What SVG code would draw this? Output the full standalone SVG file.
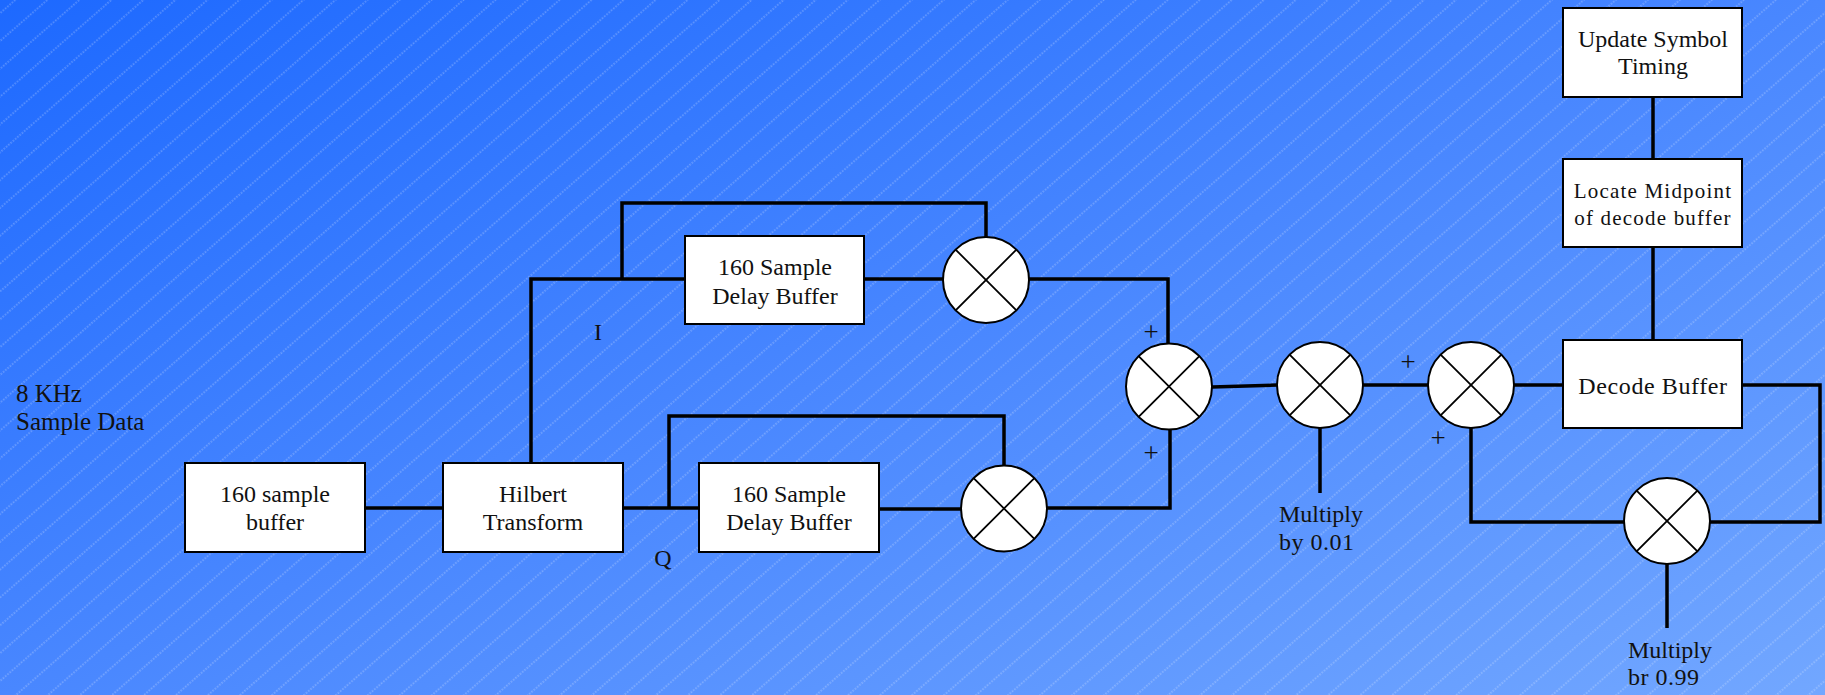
<svg xmlns="http://www.w3.org/2000/svg" width="1825" height="695" viewBox="0 0 1825 695">
<defs>
<linearGradient id="bg" x1="0" y1="0" x2="1" y2="1">
<stop offset="0" stop-color="#1d69ff"/>
<stop offset="0.5" stop-color="#4987ff"/>
<stop offset="1" stop-color="#72a7ff"/>
</linearGradient>
<pattern id="hatch" width="21" height="21" patternUnits="userSpaceOnUse" patternTransform="rotate(-41)">
<line x1="-5" y1="10" x2="26" y2="10" stroke="#ffffff" stroke-opacity="0.45" stroke-width="1" stroke-dasharray="1.5 1.5"/>
</pattern>
</defs>
<style>
text{font-family:"Liberation Serif","Times New Roman",serif;font-size:24px;fill:#111}
.box{fill:#fff;stroke:#000;stroke-width:2}
.mul circle{fill:#fff;stroke:#000;stroke-width:2}
.mul line{stroke:#000;stroke-width:1.8}
#connectors path{fill:none;stroke:#000;stroke-width:3.5;stroke-linejoin:miter}
.c{text-anchor:middle}
.plus{font-size:27px;text-anchor:middle}
</style>
<rect width="1825" height="695" fill="url(#bg)"/>
<rect width="1825" height="695" fill="url(#hatch)"/>

<g id="connectors">
<path d="M365,508 H443"/>
<path d="M531,463 V279 H685"/>
<path d="M622,279 V203 H986 V237"/>
<path d="M864,279 H943"/>
<path d="M1029,279 H1168 V344"/>
<path d="M623,508 H699"/>
<path d="M669,508 V416 H1004 V466"/>
<path d="M879,509 H961"/>
<path d="M1047,508 H1170 V429"/>
<path d="M1212,387 L1277,385"/>
<path d="M1363,385 H1428"/>
<path d="M1320,428 V493"/>
<path d="M1514,385 H1563"/>
<path d="M1742,385 H1820 V522 H1710"/>
<path d="M1624,522 H1471 V428"/>
<path d="M1667,564 V628"/>
<path d="M1653,97 V159"/>
<path d="M1653,247 V340"/>
</g>

<g id="input-label">
<text x="16" y="402" style="font-size:25px">8 KHz</text>
<text x="16" y="430" style="font-size:25px">Sample Data</text>
</g>

<g id="sample-buffer">
<rect class="box" x="185" y="463" width="180" height="89"/>
<text class="c" x="275" y="502">160 sample</text>
<text class="c" x="275" y="530">buffer</text>
</g>

<g id="hilbert">
<rect class="box" x="443" y="463" width="180" height="89"/>
<text class="c" x="533" y="502">Hilbert</text>
<text class="c" x="533" y="530">Transform</text>
</g>

<g id="label-i"><text class="c" x="598" y="340">I</text></g>
<g id="label-q"><text class="c" x="663" y="566">Q</text></g>

<g id="delay-i">
<rect class="box" x="685" y="236" width="179" height="88"/>
<text class="c" x="775" y="275">160 Sample</text>
<text class="c" x="775" y="304">Delay Buffer</text>
</g>

<g id="delay-q">
<rect class="box" x="699" y="463" width="180" height="89"/>
<text class="c" x="789" y="502">160 Sample</text>
<text class="c" x="789" y="530">Delay Buffer</text>
</g>

<g id="mult-i" class="mul">
<circle cx="986" cy="280" r="43"/>
<line x1="955.6" y1="249.6" x2="1016.4" y2="310.4"/>
<line x1="1016.4" y1="249.6" x2="955.6" y2="310.4"/>
</g>

<g id="mult-q" class="mul">
<circle cx="1004" cy="508.5" r="43"/>
<line x1="973.6" y1="478.1" x2="1034.4" y2="538.9"/>
<line x1="1034.4" y1="478.1" x2="973.6" y2="538.9"/>
</g>

<g id="sum-iq" class="mul">
<circle cx="1169" cy="386.5" r="43"/>
<line x1="1138.6" y1="356.1" x2="1199.4" y2="416.9"/>
<line x1="1199.4" y1="356.1" x2="1138.6" y2="416.9"/>
</g>
<g id="sum-signs">
<text class="plus" x="1151" y="341">+</text>
<text class="plus" x="1151" y="462">+</text>
</g>

<g id="mult-001" class="mul">
<circle cx="1320" cy="385" r="43"/>
<line x1="1289.6" y1="354.6" x2="1350.4" y2="415.4"/>
<line x1="1350.4" y1="354.6" x2="1289.6" y2="415.4"/>
</g>
<g id="label-001">
<text x="1279" y="522">Multiply</text>
<text x="1279" y="550" letter-spacing="0.5">by 0.01</text>
</g>

<g id="sum-loop" class="mul">
<circle cx="1471" cy="385" r="43"/>
<line x1="1440.6" y1="354.6" x2="1501.4" y2="415.4"/>
<line x1="1501.4" y1="354.6" x2="1440.6" y2="415.4"/>
</g>
<g id="loop-signs">
<text class="plus" x="1408" y="371">+</text>
<text class="plus" x="1438" y="447">+</text>
</g>

<g id="decode-buffer">
<rect class="box" x="1563" y="340" width="179" height="88"/>
<text class="c" x="1653" y="394" letter-spacing="0.6">Decode Buffer</text>
</g>

<g id="locate-midpoint">
<rect class="box" x="1563" y="159" width="179" height="88"/>
<text class="c" x="1653" y="198" style="font-size:21px" letter-spacing="1.2">Locate Midpoint</text>
<text class="c" x="1653" y="225" style="font-size:21px" letter-spacing="1.2">of decode buffer</text>
</g>

<g id="update-timing">
<rect class="box" x="1563" y="8" width="179" height="89"/>
<text class="c" x="1653" y="47">Update Symbol</text>
<text class="c" x="1653" y="74">Timing</text>
</g>

<g id="mult-099" class="mul">
<circle cx="1667" cy="521" r="43"/>
<line x1="1636.6" y1="490.6" x2="1697.4" y2="551.4"/>
<line x1="1697.4" y1="490.6" x2="1636.6" y2="551.4"/>
</g>
<g id="label-099">
<text x="1628" y="658">Multiply</text>
<text x="1628" y="685" letter-spacing="0.5">br 0.99</text>
</g>
</svg>
